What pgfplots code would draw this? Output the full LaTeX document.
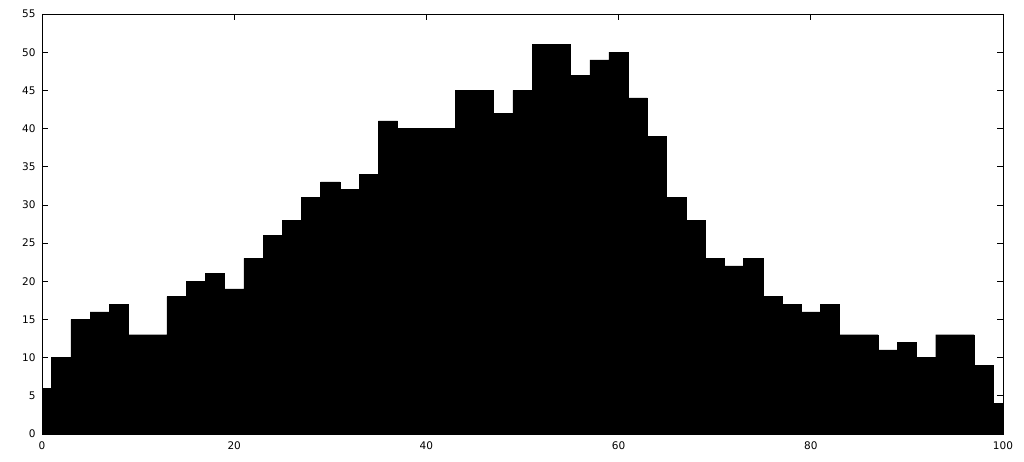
\documentclass[border=0pt]{standalone}
\usepackage{fontspec}
\setmainfont{DejaVu Sans}
\usepackage{pgfplots}
\pgfplotsset{compat=1.18}

\begin{document}
\begin{tikzpicture}
\useasboundingbox (-42pt,-28pt) rectangle (982pt,434pt);
\begin{axis}[
    at={(0,0)}, anchor=south west,
    width=961pt, height=420pt, scale only axis,
    xmin=0, xmax=100, ymin=0, ymax=55,
    xtick={0,20,...,100}, ytick={0,5,...,55},
    tick align=inside, major tick length=6pt,
    tick style={line width=0.8pt, black},
    axis line style={line width=0.8pt},
    tick label style={font=\fontsize{10.5}{12}\selectfont},
    xticklabel style={yshift=-4pt},
    yticklabel style={xshift=-3pt},
    /pgf/number format/assume math mode=true,
    clip=true, axis on top,
]
\addplot[ybar, bar width=2, fill=black, draw=black, line width=0.4pt]
    coordinates {
    (0,6) (2,10) (4,15) (6,16) (8,17) (10,13) (12,13) (14,18) (16,20) (18,21)
    (20,19) (22,23) (24,26) (26,28) (28,31) (30,33) (32,32) (34,34) (36,41) (38,40)
    (40,40) (42,40) (44,45) (46,45) (48,42) (50,45) (52,51) (54,51) (56,47) (58,49)
    (60,50) (62,44) (64,39) (66,31) (68,28) (70,23) (72,22) (74,23) (76,18) (78,17)
    (80,16) (82,17) (84,13) (86,13) (88,11) (90,12) (92,10) (94,13) (96,13) (98,9)
    (100,4)
    };
\end{axis}
\end{tikzpicture}
\end{document}
